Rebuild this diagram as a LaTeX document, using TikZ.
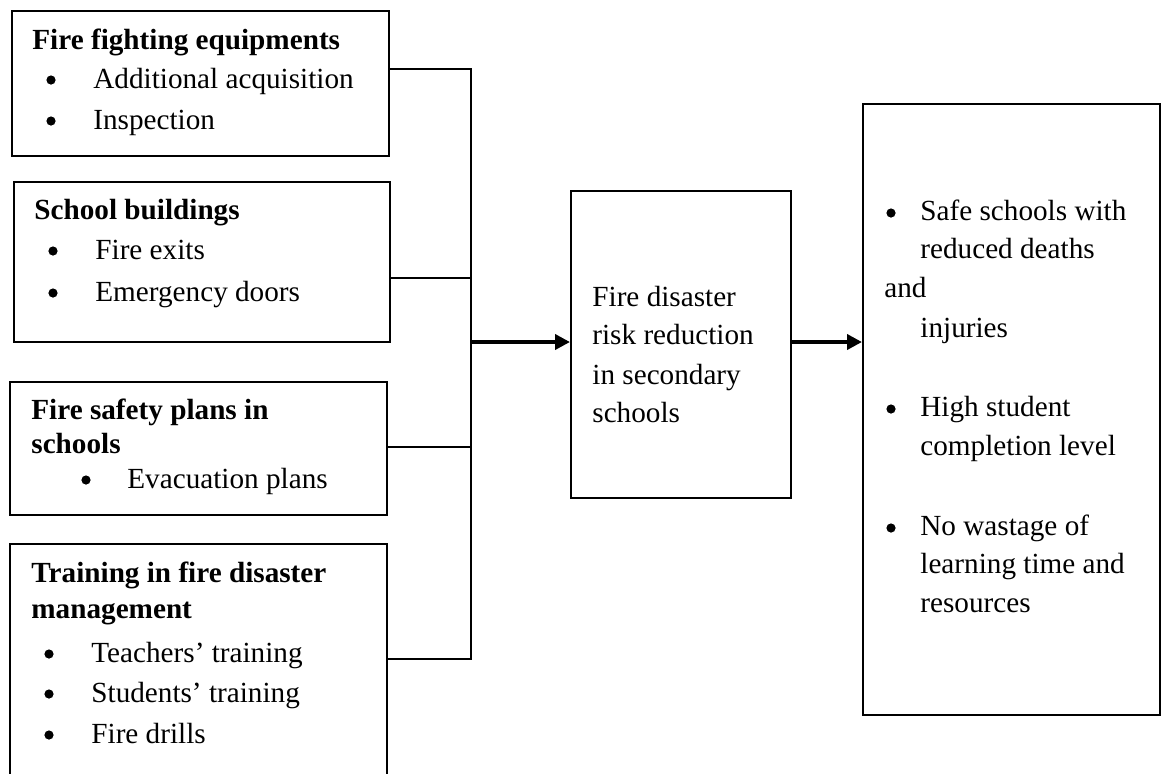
\documentclass[tikz,border=0pt]{standalone}
\usepackage{fontspec}
\setmainfont{Liberation Serif}
\usetikzlibrary{arrows.meta}
\begin{document}
\begin{tikzpicture}[x=0.5pt,y=-0.5pt,
  box/.style={draw,line width=1pt,rectangle,inner sep=0pt},
  txt/.style={anchor=base west,inner sep=0pt,font=\fontsize{14.6}{17}\selectfont},
  hd/.style={anchor=base west,inner sep=0pt,font=\fontsize{14.6}{17}\selectfont\bfseries},
  bul/.style={circle,fill,inner sep=0pt,minimum size=4.6pt},
  link/.style={line width=1pt},
  flow/.style={line width=2pt,-{Triangle[length=7.5pt,width=7.5pt]}}]
\useasboundingbox (0,0) rectangle (1161,773);
\clip (0,0) rectangle (1161,773);
% boxes
\node[box,minimum width=188.5pt,minimum height=72.5pt] (b1) at (200.5,83.5) {};
\node[box,minimum width=188pt,minimum height=80pt] (b2) at (202,262) {};
\node[box,minimum width=188.5pt,minimum height=66.5pt] (b3) at (198.5,448.5) {};
\node[box,minimum width=188.5pt,minimum height=128pt] (b4) at (198.5,672) {};
\node[box,minimum width=110pt,minimum height=153.5pt] (c) at (681,344.5) {};
\node[box,minimum width=148.5pt,minimum height=305.5pt] (r) at (1011.5,409.5) {};
% box 1 text
\node[hd] (t1) at (32,49) {Fire fighting equipments};
\node[bul] (t1b1) at (51,80) {};
\node[txt] (t1a) at (93,88) {Additional acquisition};
\node[bul] (t1b2) at (51,121) {};
\node[txt] (t1c) at (93,129) {Inspection};
% box 2 text
\node[hd] (t2) at (34,219) {School buildings};
\node[bul] (t2b1) at (53,251) {};
\node[txt] (t2a) at (95,259) {Fire exits};
\node[bul] (t2b2) at (53,293) {};
\node[txt] (t2c) at (95,301) {Emergency doors};
% box 3 text
\node[hd] (t3) at (31,419) {Fire safety plans in};
\node[hd] (t3s) at (31,453) {schools};
\node[bul] (t3b1) at (86,480) {};
\node[txt] (t3a) at (127,488) {Evacuation plans};
% box 4 text
\node[hd] (t4) at (31,582) {Training in fire disaster};
\node[hd] (t4s) at (31,618) {management};
\node[bul] (t4b1) at (49,654) {};
\node[txt] (t4a) at (91,662) {Teachers’ training};
\node[bul] (t4b2) at (49,694) {};
\node[txt] (t4c) at (91,702) {Students’ training};
\node[bul] (t4b3) at (49,735) {};
\node[txt] (t4d) at (91,743) {Fire drills};
% centre text
\node[txt] (c1) at (592,306) {Fire disaster};
\node[txt] (c2) at (592,344) {risk reduction};
\node[txt] (c3) at (592,384) {in secondary};
\node[txt] (c4) at (592,422) {schools};
% right text
\node[bul] (rb1) at (891,213) {};
\node[txt] (r1) at (920,220) {Safe schools with};
\node[txt] (r2) at (920,258) {reduced deaths};
\node[txt] (r3) at (884,297) {and};
\node[txt] (r4) at (920,337) {injuries};
\node[bul] (rb2) at (891,409) {};
\node[txt] (r5) at (920,416) {High student};
\node[txt] (r6) at (920,455) {completion level};
\node[bul] (rb3) at (891,528) {};
\node[txt] (r7) at (920,535) {No wastage of};
\node[txt] (r8) at (920,573) {learning time and};
\node[txt] (r9) at (920,612) {resources};
% connectors
\coordinate (j1) at (471,69);
\coordinate (j2) at (471,278);
\coordinate (j3) at (471,447);
\coordinate (j4) at (471,659);
\coordinate (jm) at (471,342);
\draw[link] (b1.east|-j1) -- (j1) -- (j4) -- (b4.east|-j4);
\draw[link] (b2.east|-j2) -- (j2);
\draw[link] (b3.east|-j3) -- (j3);
\draw[flow] (jm) -- (c.west|-jm);
\draw[flow] (c.east|-jm) -- (r.west|-jm);
\end{tikzpicture}
\end{document}
